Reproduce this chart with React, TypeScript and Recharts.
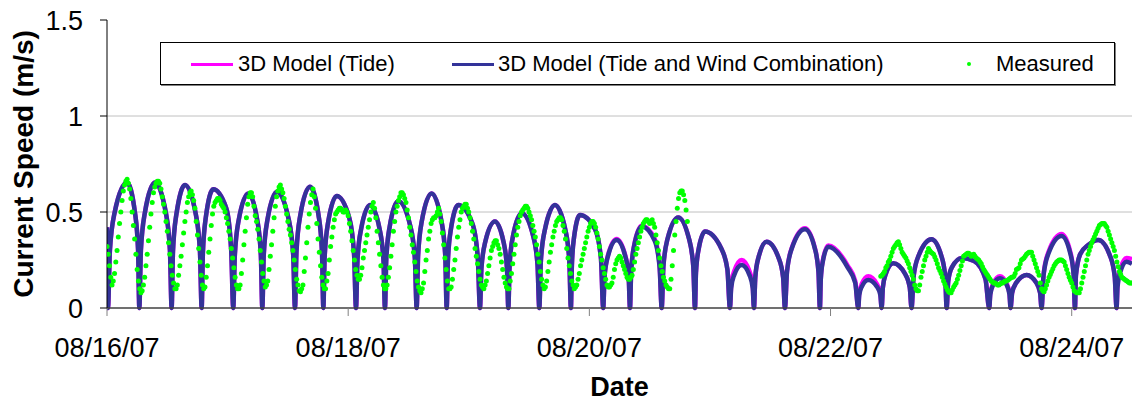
import {
  CartesianGrid,
  ComposedChart,
  Legend,
  Line,
  Scatter,
  XAxis,
  YAxis,
} from "recharts";

const font = "'Liberation Sans', Arial, Helvetica, sans-serif";

// x axis: days after 08/16/07 00:00
const tickDays = [0, 2, 4, 6, 8];
const dateLabels = ["08/16/07", "08/18/07", "08/20/07", "08/22/07", "08/24/07"];
const speedTicks = [0, 0.5, 1, 1.5];
const gridSpeeds = [0.5, 1];

const tideName = "3D Model (Tide)";
const windName = "3D Model (Tide and Wind Combination)";
const measuredName = "Measured";

// model output times (days), one row per hump: slack, rise, rise, peak, fall, fall
const modelDays = [
  0,
  0.008, 0.024, 0.063, 0.166, 0.232, 0.258,
  0.268, 0.281, 0.314, 0.398, 0.488, 0.522,
  0.536, 0.547, 0.575, 0.647, 0.737, 0.771,
  0.785, 0.795, 0.819, 0.881, 0.989, 1.03,
  1.047, 1.06, 1.091, 1.172, 1.247, 1.276,
  1.288, 1.3, 1.331, 1.41, 1.507, 1.544,
  1.559, 1.571, 1.602, 1.683, 1.755, 1.783,
  1.794, 1.805, 1.833, 1.905, 2.009, 2.049,
  2.065, 2.077, 2.106, 2.181, 2.262, 2.293,
  2.305, 2.316, 2.344, 2.415, 2.514, 2.553,
  2.568, 2.58, 2.611, 2.692, 2.773, 2.805,
  2.817, 2.827, 2.851, 2.913, 3.03, 3.075,
  3.093, 3.105, 3.136, 3.217, 3.289, 3.317,
  3.328, 3.339, 3.367, 3.439, 3.534, 3.57,
  3.585, 3.598, 3.631, 3.715, 3.801, 3.834,
  3.847, 3.855, 3.873, 3.922, 4.047, 4.096,
  4.115, 4.126, 4.154, 4.226, 4.298, 4.326,
  4.337, 4.347, 4.371, 4.434, 4.542, 4.583,
  4.6, 4.614, 4.648, 4.737, 4.827, 4.862,
  4.876, 4.884, 4.905, 4.959, 5.094, 5.145,
  5.166, 5.176, 5.2, 5.263, 5.329, 5.355,
  5.365, 5.376, 5.402, 5.47, 5.569, 5.607,
  5.622, 5.639, 5.68, 5.788, 5.869, 5.9,
  5.912, 5.919, 5.936, 5.981, 6.143, 6.205,
  6.23, 6.238, 6.259, 6.313, 6.385, 6.413,
  6.424, 6.434, 6.458, 6.52, 6.619, 6.657,
  6.672, 6.689, 6.73, 6.838, 6.919, 6.951,
  6.963, 6.976, 7.005, 7.09, 7.19, 7.285,
  7.316, 7.325, 7.347, 7.405, 7.462, 7.484,
  7.493, 7.506, 7.54, 7.626, 7.707, 7.738,
  7.75, 7.767, 7.808, 7.916, 7.988, 8.016,
  8.027, 8.035, 8.07, 8.14, 8.22, 8.319, 8.357,
  8.372, 8.38, 8.401, 8.455, 8.5,
];

// 3D model, tide and wind combination (m/s)
const windTideSpeed = [
  0.42,
  0, 0.3, 0.496, 0.653, 0.496, 0.3,
  0, 0.3, 0.496, 0.653, 0.496, 0.3,
  0, 0.294, 0.486, 0.64, 0.486, 0.294,
  0, 0.284, 0.47, 0.618, 0.52, 0.3,
  0, 0.275, 0.454, 0.597, 0.454, 0.275,
  0, 0.279, 0.461, 0.606, 0.461, 0.279,
  0, 0.291, 0.48, 0.632, 0.48, 0.291,
  0, 0.268, 0.443, 0.583, 0.47, 0.28,
  0, 0.247, 0.407, 0.536, 0.407, 0.247,
  0, 0.256, 0.423, 0.557, 0.43, 0.26,
  0, 0.275, 0.454, 0.597, 0.454, 0.275,
  0, 0.247, 0.407, 0.536, 0.44, 0.26,
  0, 0.207, 0.342, 0.45, 0.342, 0.207,
  0, 0.227, 0.375, 0.493, 0.375, 0.227,
  0, 0.247, 0.407, 0.536, 0.407, 0.247,
  0, 0.223, 0.368, 0.484, 0.41, 0.26,
  0, 0.163, 0.269, 0.354, 0.269, 0.163,
  0, 0.195, 0.322, 0.424, 0.35, 0.21,
  0, 0.217, 0.359, 0.472, 0.359, 0.217,
  0, 0.183, 0.302, 0.398, 0.31, 0.2,
  0, 0.103, 0.17, 0.224, 0.17, 0.103,
  0, 0.159, 0.262, 0.345, 0.262, 0.159,
  0, 0.189, 0.312, 0.41, 0.312, 0.189,
  0, 0.147, 0.242, 0.319, 0.21, 0.13,
  0, 0.067, 0.111, 0.146, 0.111, 0.067,
  0, 0.107, 0.177, 0.233, 0.177, 0.107,
  0, 0.165, 0.272, 0.358, 0.272, 0.165,
  0, 0.14, 0.21, 0.26, 0.245, 0.15,
  0, 0.071, 0.118, 0.155, 0.118, 0.071,
  0, 0.079, 0.131, 0.172, 0.131, 0.079,
  0, 0.173, 0.285, 0.375, 0.285, 0.173,
  0, 0.17, 0.28, 0.33, 0.354, 0.27, 0.163,
  0, 0.111, 0.183, 0.241, 0.23,
];

// 3D model, tide only (m/s)
const tideSpeed = [
  0.42,
  0, 0.3, 0.496, 0.653, 0.496, 0.3,
  0, 0.3, 0.496, 0.653, 0.496, 0.3,
  0, 0.294, 0.486, 0.64, 0.486, 0.294,
  0, 0.284, 0.47, 0.618, 0.52, 0.3,
  0, 0.275, 0.454, 0.597, 0.454, 0.275,
  0, 0.279, 0.461, 0.606, 0.461, 0.279,
  0, 0.291, 0.48, 0.632, 0.48, 0.291,
  0, 0.268, 0.443, 0.583, 0.47, 0.28,
  0, 0.247, 0.407, 0.536, 0.407, 0.247,
  0, 0.256, 0.423, 0.557, 0.43, 0.26,
  0, 0.275, 0.454, 0.597, 0.454, 0.275,
  0, 0.247, 0.407, 0.536, 0.44, 0.26,
  0, 0.207, 0.342, 0.45, 0.342, 0.207,
  0, 0.227, 0.375, 0.493, 0.375, 0.227,
  0, 0.247, 0.407, 0.536, 0.407, 0.247,
  0, 0.223, 0.368, 0.484, 0.41, 0.26,
  0, 0.166, 0.274, 0.36, 0.274, 0.166,
  0, 0.197, 0.325, 0.428, 0.36, 0.215,
  0, 0.217, 0.359, 0.472, 0.359, 0.217,
  0, 0.183, 0.302, 0.398, 0.31, 0.2,
  0, 0.115, 0.19, 0.25, 0.19, 0.115,
  0, 0.159, 0.262, 0.345, 0.262, 0.159,
  0, 0.191, 0.315, 0.415, 0.315, 0.191,
  0, 0.15, 0.247, 0.325, 0.22, 0.14,
  0, 0.076, 0.125, 0.165, 0.125, 0.076,
  0, 0.107, 0.177, 0.233, 0.177, 0.107,
  0, 0.165, 0.272, 0.358, 0.272, 0.165,
  0, 0.14, 0.21, 0.26, 0.245, 0.15,
  0, 0.076, 0.125, 0.165, 0.125, 0.076,
  0, 0.079, 0.131, 0.172, 0.131, 0.079,
  0, 0.177, 0.293, 0.385, 0.293, 0.177,
  0, 0.17, 0.28, 0.33, 0.354, 0.27, 0.163,
  0, 0.12, 0.198, 0.26, 0.255,
];

// measured current speed, one reading every 15 minutes (index = quarter hours after 08/16 00:00)
const measuredFirstStart = 0;
const measuredFirst = [
  0.32, 0.28, 0.22, 0.16, 0.12, 0.14, 0.18, 0.24, 0.3, 0.37, 0.44, 0.5, 0.56, 0.61, 0.64, 0.66, 0.67, 0.65, 0.62, 0.57, 0.5, 0.43, 0.36, 0.28,
  0.2, 0.14, 0.1, 0.08, 0.09, 0.12, 0.16, 0.22, 0.28, 0.35, 0.42, 0.49, 0.55, 0.6, 0.63, 0.65, 0.66, 0.66, 0.65, 0.62, 0.58, 0.54, 0.5, 0.45,
  0.4, 0.34, 0.28, 0.22, 0.17, 0.13, 0.1, 0.1, 0.12, 0.17, 0.22, 0.27, 0.33, 0.39, 0.45, 0.5, 0.55, 0.58, 0.6, 0.61, 0.59, 0.56, 0.52, 0.45,
  0.38, 0.31, 0.24, 0.17, 0.12, 0.1, 0.11, 0.16, 0.22, 0.29, 0.36, 0.43, 0.49, 0.53, 0.55, 0.56, 0.57, 0.57, 0.56, 0.54, 0.53, 0.52, 0.5, 0.47,
  0.44, 0.4, 0.36, 0.31, 0.26, 0.21, 0.16, 0.12, 0.1, 0.1, 0.12, 0.18, 0.25, 0.33, 0.4, 0.47, 0.54, 0.58, 0.6, 0.6, 0.58, 0.53, 0.48, 0.45,
  0.41, 0.36, 0.3, 0.24, 0.18, 0.14, 0.11, 0.12, 0.14, 0.2, 0.27, 0.33, 0.4, 0.47, 0.53, 0.58, 0.61, 0.63, 0.64, 0.62, 0.6, 0.57, 0.53, 0.49,
  0.45, 0.41, 0.38, 0.34, 0.3, 0.25, 0.2, 0.15, 0.12, 0.09, 0.085, 0.1, 0.12, 0.19, 0.26, 0.34, 0.42, 0.49, 0.55, 0.59, 0.62, 0.58, 0.52, 0.44,
  0.36, 0.29, 0.22, 0.16, 0.12, 0.1, 0.1, 0.14, 0.18, 0.25, 0.32, 0.37, 0.42, 0.46, 0.49, 0.5, 0.51, 0.52, 0.52, 0.51, 0.5, 0.5, 0.51, 0.5,
  0.48, 0.44, 0.4, 0.35, 0.3, 0.25, 0.2, 0.17, 0.15, 0.15, 0.17, 0.21, 0.26, 0.3, 0.34, 0.38, 0.42, 0.46, 0.5, 0.53, 0.55, 0.52, 0.47, 0.4,
  0.34, 0.28, 0.22, 0.16, 0.12, 0.1, 0.1, 0.12, 0.16, 0.21, 0.27, 0.33, 0.4, 0.45, 0.5, 0.53, 0.56, 0.58, 0.6, 0.6, 0.59, 0.57, 0.55, 0.51,
  0.47, 0.42, 0.38, 0.33, 0.29, 0.24, 0.19, 0.14, 0.11, 0.09, 0.08, 0.1, 0.13, 0.19, 0.25, 0.3, 0.36, 0.4, 0.44, 0.46, 0.47, 0.47, 0.48, 0.5,
  0.52, 0.49, 0.45, 0.39, 0.33, 0.26, 0.2, 0.14, 0.1, 0.1, 0.11, 0.15, 0.2, 0.25, 0.31, 0.37, 0.42, 0.46, 0.5, 0.52, 0.53, 0.54, 0.54, 0.52,
  0.5, 0.47, 0.44, 0.4, 0.36, 0.31, 0.27, 0.23, 0.19, 0.15, 0.12, 0.11, 0.1, 0.12, 0.14, 0.18, 0.22, 0.26, 0.3, 0.32, 0.34, 0.35, 0.35, 0.33,
  0.31, 0.28, 0.24, 0.2, 0.16, 0.13, 0.11, 0.1, 0.1, 0.14, 0.18, 0.23, 0.28, 0.33, 0.38, 0.42, 0.45, 0.48, 0.5, 0.51, 0.52, 0.53, 0.53, 0.52,
  0.5, 0.48, 0.46, 0.43, 0.4, 0.37, 0.33, 0.28, 0.24, 0.19, 0.15, 0.12, 0.1, 0.11, 0.14, 0.19, 0.24, 0.29, 0.33, 0.37, 0.4, 0.43, 0.45, 0.46,
  0.47, 0.47, 0.46, 0.43, 0.4, 0.36, 0.31, 0.26, 0.22, 0.18, 0.14, 0.12, 0.1, 0.11, 0.12, 0.15, 0.18, 0.22, 0.25, 0.28, 0.31, 0.34, 0.37, 0.4,
  0.42, 0.44, 0.45, 0.45, 0.44, 0.42, 0.39, 0.36, 0.32, 0.28, 0.25, 0.21, 0.18, 0.15, 0.12, 0.11, 0.11, 0.12, 0.13, 0.16, 0.2, 0.23, 0.25, 0.26,
  0.27, 0.26, 0.24, 0.22, 0.2, 0.18, 0.16, 0.15, 0.15, 0.16, 0.17, 0.2, 0.24, 0.28, 0.31, 0.34, 0.37, 0.4, 0.42, 0.44, 0.45, 0.46, 0.46, 0.45,
  0.44, 0.45, 0.46, 0.44, 0.42, 0.38, 0.34, 0.3, 0.26, 0.22, 0.19, 0.16, 0.14, 0.12, 0.11, 0.1, 0.1, 0.15, 0.22, 0.3, 0.38, 0.45, 0.52, 0.57,
  0.6, 0.61, 0.61, 0.59, 0.56, 0.51, 0.45,
];
const measuredSecondStart = 616;
const measuredSecond = [
  0.165, 0.17, 0.18, 0.19, 0.21, 0.22, 0.24, 0.25, 0.27, 0.29, 0.31, 0.32, 0.33, 0.34, 0.345, 0.33, 0.31, 0.29, 0.28, 0.27, 0.26, 0.245, 0.23, 0.21,
  0.19, 0.17, 0.15, 0.12, 0.1, 0.09, 0.09, 0.12, 0.16, 0.19, 0.22, 0.25, 0.27, 0.29, 0.31, 0.3, 0.29, 0.285, 0.28, 0.265, 0.25, 0.23, 0.21, 0.195,
  0.18, 0.16, 0.14, 0.125, 0.11, 0.095, 0.085, 0.08, 0.08, 0.095, 0.11, 0.12, 0.13, 0.15, 0.17, 0.195, 0.22, 0.245, 0.27, 0.275, 0.28, 0.285, 0.285, 0.28,
  0.27, 0.275, 0.28, 0.27, 0.26, 0.255, 0.25, 0.24, 0.23, 0.215, 0.2, 0.19, 0.18, 0.17, 0.16, 0.15, 0.14, 0.135, 0.13, 0.13, 0.125, 0.12, 0.12, 0.125,
  0.13, 0.13, 0.135, 0.14, 0.14, 0.145, 0.15, 0.155, 0.16, 0.16, 0.165, 0.18, 0.2, 0.205, 0.21, 0.23, 0.25, 0.255, 0.26, 0.27, 0.28, 0.285, 0.29, 0.29,
  0.29, 0.27, 0.25, 0.23, 0.21, 0.19, 0.17, 0.13, 0.1, 0.09, 0.085, 0.1, 0.12, 0.14, 0.16, 0.175, 0.19, 0.205, 0.22, 0.23, 0.24, 0.245, 0.25, 0.25,
  0.25, 0.245, 0.24, 0.22, 0.2, 0.18, 0.16, 0.145, 0.13, 0.11, 0.09, 0.085, 0.08, 0.08, 0.08, 0.1, 0.13, 0.16, 0.19, 0.22, 0.25, 0.28, 0.3, 0.32,
  0.34, 0.355, 0.37, 0.385, 0.4, 0.415, 0.43, 0.435, 0.44, 0.44, 0.44, 0.43, 0.42, 0.4, 0.38, 0.36, 0.34, 0.32, 0.3, 0.27, 0.24, 0.215, 0.19, 0.175,
  0.16, 0.155, 0.15, 0.145, 0.14, 0.135, 0.13, 0.13, 0.13,
];

const modelRows = modelDays.map((t, i) => ({
  t,
  tide: tideSpeed[i],
  wind: windTideSpeed[i],
}));

const measuredRows = [
  ...measuredFirst.map((v, i) => ({ t: (measuredFirstStart + i) / 96, v })),
  ...measuredSecond.map((v, i) => ({ t: (measuredSecondStart + i) / 96, v })),
];

const legendItems = [
  { name: tideName, color: "#ff00ff", kind: "line", mark: 30, text: 77 },
  { name: windName, color: "#333399", kind: "line", mark: 291, text: 337 },
  { name: measuredName, color: "#00ff00", kind: "dot", mark: 808, text: 835 },
];

function ChartLegend() {
  return (
    <div
      style={{
        position: "relative",
        width: 955,
        height: 43,
        boxSizing: "border-box",
        border: "1px solid #000",
        boxShadow: "1px 1px 0 #808080",
        background: "#fff",
        fontFamily: font,
        fontSize: 22,
        color: "#000",
      }}
    >
      {legendItems.map((item) => (
        <div key={item.name}>
          {item.kind === "dot" ? (
            <span
              style={{
                position: "absolute",
                left: item.mark - 2,
                top: 19,
                width: 4,
                height: 4,
                borderRadius: 2,
                background: item.color,
              }}
            />
          ) : (
            <span
              style={{
                position: "absolute",
                left: item.mark,
                top: 20,
                width: 42,
                height: 3,
                background: item.color,
              }}
            />
          )}
          <span
            style={{
              position: "absolute",
              left: item.text,
              top: 0,
              lineHeight: "41px",
              whiteSpace: "nowrap",
            }}
          >
            {item.name}
          </span>
        </div>
      ))}
    </div>
  );
}

export default function App() {
  return (
    <div style={{ position: "absolute", left: 0, top: 0, background: "#fff" }}>
      <ComposedChart
        width={1132}
        height={401}
        margin={{ top: 20, right: 0, bottom: 0, left: 0 }}
      >
        <CartesianGrid
          vertical={false}
          stroke="#c0c0c0"
          horizontalValues={gridSpeeds}
        />
        <XAxis
          type="number"
          dataKey="t"
          domain={[0, 8.5]}
          ticks={tickDays}
          interval={0}
          allowDataOverflow
          tickFormatter={(d: number) => dateLabels[tickDays.indexOf(d)]}
          tick={{ fill: "#000", fontSize: 27, fontFamily: font }}
          tickSize={8}
          tickMargin={22}
          height={93}
          axisLine={{ stroke: "#404040", strokeWidth: 1.5 }}
          tickLine={{ stroke: "#808080" }}
          label={(props: any) => {
            const vb = props.viewBox || { x: 107, y: 308, width: 1025, height: 93 };
            return (
              <text
                x={vb.x + vb.width / 2}
                y={vb.y + vb.height - 5}
                textAnchor="middle"
                fontFamily={font}
                fontSize={27}
                fontWeight="bold"
                fill="#000"
              >
                Date
              </text>
            );
          }}
        />
        <YAxis
          type="number"
          domain={[0, 1.5]}
          ticks={speedTicks}
          interval={0}
          width={107}
          tick={{ fill: "#000", fontSize: 27, fontFamily: font }}
          tickSize={7}
          tickMargin={17}
          axisLine={{ stroke: "#000" }}
          tickLine={{ stroke: "#000" }}
          label={(props: any) => {
            const vb = props.viewBox || { x: 0, y: 20, width: 107, height: 288 };
            const cy = vb.y + vb.height / 2;
            return (
              <text
                x={33}
                y={cy}
                transform={`rotate(-90, 33, ${cy})`}
                textAnchor="middle"
                fontFamily={font}
                fontSize={28}
                fontWeight="bold"
                fill="#000"
              >
                Current Speed (m/s)
              </text>
            );
          }}
        />
        <Legend
          layout="horizontal"
          verticalAlign="middle"
          align="center"
          content={ChartLegend}
          wrapperStyle={{ left: 160, top: 42, width: 955, height: 43 }}
        />
        <Line
          data={modelRows}
          dataKey="tide"
          name={tideName}
          type="monotone"
          stroke="#ff00ff"
          strokeWidth={4.5}
          dot={false}
          isAnimationActive={false}
        />
        <Line
          data={modelRows}
          dataKey="wind"
          name={windName}
          type="monotone"
          stroke="#333399"
          strokeWidth={4.5}
          dot={false}
          isAnimationActive={false}
        />
        <Scatter
          data={measuredRows}
          dataKey="v"
          name={measuredName}
          fill="#00ff00"
          isAnimationActive={false}
          shape={(p: any) => (
            <circle cx={p.cx} cy={p.cy} r={2.5} fill="#00ff00" />
          )}
        />
      </ComposedChart>
    </div>
  );
}
